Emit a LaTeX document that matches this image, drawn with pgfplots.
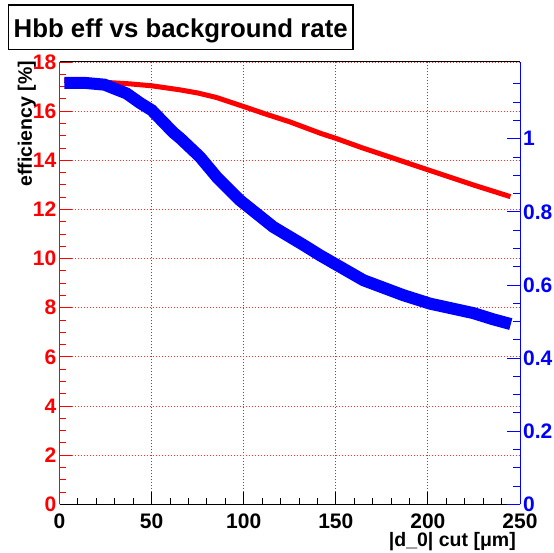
\documentclass[border=0pt]{standalone}
\usepackage{fontspec}
\setmainfont{Liberation Sans}
\usepackage{pgfplots}
\pgfplotsset{compat=1.18}

\definecolor{rootred}{RGB}{255,0,0}
\definecolor{rootblue}{RGB}{0,0,255}

% Hbb signal efficiency [%] versus the |d_0| cut
\pgfplotstableread{
cut    eff
2.6    17.25
13.5   17.22
25.4   17.17
38.3   17.11
50.2   17.03
65.1   16.87
75.0   16.74
85.0   16.56
97.9   16.24
112.0  15.88
125.2  15.56
141.6  15.10
150.5  14.88
165.0  14.49
182.2  14.06
200.1  13.61
224.5  13.00
244.8  12.52
}\effdata

% background rate (right-hand scale)
\pgfplotstableread{
cut    bkg
2.6    1.153
13.5   1.153
24.4   1.148
36.4   1.124
43.7   1.098
50.1   1.078
61.8   1.017
65.4   1.002
76.3   0.950
85.4   0.895
97.9   0.832
116.0  0.759
134.2  0.704
141.5  0.681
150.5  0.655
165.0  0.613
186.7  0.572
201.1  0.549
224.7  0.523
235.5  0.506
245.0  0.493
}\bkgdata

\newcommand{\ticklabelfont}{\fontsize{21}{21}\selectfont\bfseries}
\newcommand{\labelfont}{\fontsize{19.5}{19.5}\selectfont\bfseries}

\begin{document}
\begin{tikzpicture}[x=1pt,y=1pt]
% left axis: efficiency
\begin{axis}[
  at={(0,0)}, anchor=south west,
  scale only axis, width=460.5pt, height=442.3pt,
  xmin=0, xmax=250, ymin=0, ymax=18,
  axis x line*=bottom, axis y line*=left,
  x axis line style={black, line width=1pt, -},
  y axis line style={rootred, line width=1pt, -},
  tick align=inside,
  major tick length=12pt, minor tick length=6pt,
  xtick={0,50,...,250}, minor x tick num=4,
  ytick={0,2,...,18}, minor y tick num=3,
  every tick/.style={line width=0.9pt},
  y tick style={rootred},
  x tick style={black},
  /pgf/number format/assume math mode=true,
  xticklabel style={font=\ticklabelfont, black, inner sep=0pt, yshift=-9pt},
  yticklabel style={font=\ticklabelfont, rootred, inner sep=3pt},
  xmajorgrids, ymajorgrids,
  x grid style={black!65, line width=0.9pt, dash pattern=on 1pt off 2pt},
  y grid style={rootred!80, line width=0.9pt, dash pattern=on 1pt off 2pt},
]
\addplot[rootred, line width=5pt] table[x=cut, y=eff] {\effdata};
\end{axis}
% right axis: background rate
\begin{axis}[
  at={(0,0)}, anchor=south west,
  scale only axis, width=460.5pt, height=442.3pt,
  xmin=0, xmax=250, ymin=0, ymax=1.21,
  axis x line*=top, xtick=\empty,
  axis y line*=right,
  x axis line style={black, line width=1pt, -},
  y axis line style={rootblue, line width=1pt, -},
  tick align=inside,
  major tick length=13pt, minor tick length=7pt,
  ytick={0,0.2,0.4,0.6,0.8,1},
  minor ytick={0.05,0.1,0.15,0.25,0.3,0.35,0.45,0.5,0.55,0.65,0.7,0.75,0.85,0.9,0.95,1.05,1.1,1.15},
  every tick/.style={line width=0.9pt},
  y tick style={rootblue},
  /pgf/number format/assume math mode=true,
  yticklabel style={font=\ticklabelfont, rootblue, inner sep=3pt},
]
\addplot[rootblue, line width=12pt] table[x=cut, y=bkg] {\bkgdata};
\end{axis}
% title box
\draw[black, line width=1.4pt, fill=white] (-51.2,455) rectangle (293.5,499.3);
\node[font=\fontsize{25.8}{25.8}\selectfont\bfseries, anchor=base] at (121.2,467) {Hbb eff vs background rate};
% axis titles
\node[font=\labelfont, rotate=90, anchor=base east] at (-27.5,447) {efficiency [\%]};
\node[font=\labelfont, anchor=base east] at (459.8,-41.7) {|d\_0| cut [μm]};
\pgfresetboundingbox
\useasboundingbox (-59.5,-47.7) rectangle (494.5,504.3);
\end{tikzpicture}
\end{document}
